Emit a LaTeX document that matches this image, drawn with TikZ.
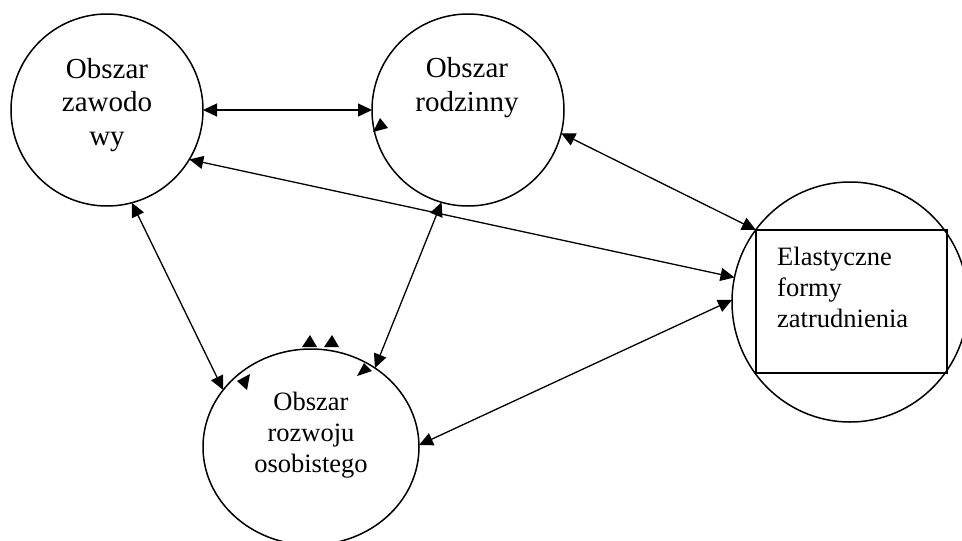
\documentclass[tikz,border=0pt]{standalone}
\usepackage{fontspec}
\setmainfont{Liberation Serif}
\usetikzlibrary{arrows.meta,shapes.geometric}
\begin{document}
\begin{tikzpicture}[x=1pt,y=-1pt,
  area/.style={draw=black,line width=1.5pt,inner sep=0pt,outer sep=0pt},
  bigtxt/.style={font=\fontsize{29}{33.5}\selectfont,align=center,inner sep=0pt},
  smalltxt/.style={font=\fontsize{26.5}{31}\selectfont,inner sep=0pt},
  link/.style={line width=1.3pt,{Triangle[length=14pt,width=13pt]}-{Triangle[length=14pt,width=13pt]}},
  stray/.style={fill=black}]
\useasboundingbox (0,0) rectangle (962,541);
% areas
\node[area,circle,minimum size=192pt] (c1) at (107,110) {};
\node[area,circle,minimum size=192pt] (c2) at (468,110) {};
\node[area,ellipse,minimum width=236pt,minimum height=240pt] (c3) at (850,302) {};
\node[area,ellipse,minimum width=216pt,minimum height=196pt] (c4) at (311,447) {};
\draw[line width=1.5pt] (756,230) rectangle (947,373);
\coordinate (boxcorner) at (756,230);
% texts (anchored at the baseline of the last line)
\node[bigtxt,anchor=base] (t1) at (107,145) {Obszar\\zawodo\\wy};
\node[bigtxt,anchor=base] (t2) at (467,111) {Obszar\\rodzinny};
\node[smalltxt,align=left,anchor=base west] (t3) at (777,327) {Elastyczne\\formy\\zatrudnienia};
\node[smalltxt,align=center,anchor=base] (t4) at (311,472) {Obszar\\rozwoju\\osobistego};
% connectors
\draw[link] (c1.east) -- (c2.west);
\draw[link] (c1.-31) -- (c3.168.7);
\draw[link] (c2.-14.5) -- (boxcorner);
\draw[link] (c2.254) -- (c4.51.6);
\draw[link] (c1.-75) -- (c4.147.9);
\draw[link] (c3.179.5) -- (c4.1);
% stray arrowheads
\fill[stray] (373,132) -- (380,118) -- (388,128) -- cycle;
\fill[stray] (237,381) -- (250,374) -- (247,390) -- cycle;
\fill[stray] (357,376) -- (364,363) -- (372,371) -- cycle;
\fill[stray] (310,335) -- (302,347) -- (317,347) -- cycle;
\fill[stray] (332,335) -- (324,347) -- (339,347) -- cycle;
\end{tikzpicture}
\end{document}
